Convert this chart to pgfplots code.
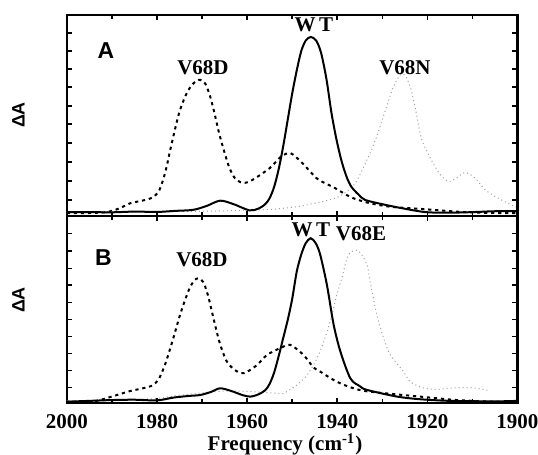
\documentclass[border=0pt]{standalone}
\usepackage{pgfplots}
\pgfplotsset{compat=1.18}
\usepackage{fontspec}
\setmainfont{Liberation Serif}
\newfontfamily\arial{Liberation Sans}

\pgfplotsset{
  ftir/.style={
    scale only axis, width=225.25pt,
    x dir=reverse, xmin=1900, xmax=2000,
    xtick={1900,1920,...,2000}, minor xtick={1910,1930,...,1990},
    tick align=inside, major tick length=2.5pt, minor tick length=2pt,
    every tick/.style={black, line width=0.8pt},
    axis line style={line width=1.2pt},
    yticklabels={}, clip=false,
    /pgf/number format/1000 sep={},
    /pgf/number format/assume math mode=true,
    tick label style={font=\bfseries\fontsize{10.5}{12}\selectfont},
  },
  wt/.style={black, line width=1pt, smooth, tension=0.5},
  vd/.style={black, line width=1pt, dash pattern=on 1.6pt off 1.9pt, smooth, tension=0.5},
  vn/.style={gray!75, line width=0.5pt, dash pattern=on 0.5pt off 1.5pt, smooth, tension=0.5},
}

\begin{document}
\begin{tikzpicture}
\path[use as bounding box] (0,0) rectangle (269pt,227.5pt);

% panel A
\begin{axis}[ftir, height=100.5pt, at={(33.5pt,119.5pt)}, anchor=south west,
  ymin=-0.017, ymax=1.125, xticklabels={},
  ytick={0.074,0.182,0.29,0.398,0.506,0.608,0.716,0.818,0.92,1.023}]
% V68D
\addplot[vd] coordinates {
(2000,0)(1995,0)(1991,0.006)(1988,0.03)(1986,0.055)(1983,0.072)(1981,0.088)
(1979.5,0.13)(1978.2,0.23)(1976.8,0.39)(1975.2,0.56)(1973.8,0.66)(1972.5,0.72)
(1971.3,0.75)(1970.4,0.756)(1969.3,0.735)(1968.2,0.66)(1967.2,0.56)(1966.2,0.45)
(1965.1,0.35)(1964,0.26)(1962.8,0.2)(1961.5,0.175)(1960.3,0.172)(1958.7,0.19)
(1955,0.255)(1952.5,0.32)(1950.4,0.34)(1948,0.29)(1946,0.235)(1944.2,0.19)
(1940.4,0.14)(1937,0.09)(1933,0.057)(1928,0.035)(1921.3,0.023)(1912.4,0.006)
(1905,0)(1900,0)};
% V68N
\addplot[vn] coordinates {
(2000,0.008)(1990,0.008)(1980,0.008)(1970,0.01)(1960,0.015)(1955,0.02)
(1951.6,0.028)(1948,0.04)(1944.2,0.06)(1940.4,0.085)(1938,0.12)(1936,0.17)
(1933.8,0.28)(1931.6,0.41)(1929.3,0.585)(1927.5,0.72)(1925.8,0.79)(1924.7,0.77)
(1923.6,0.70)(1922.4,0.56)(1921.3,0.42)(1919.1,0.30)(1917.2,0.22)(1915.3,0.18)
(1913.5,0.2)(1911.6,0.23)(1909.5,0.2)(1907.1,0.13)(1904,0.08)(1900.4,0.034)};
% WT
\addplot[wt] coordinates {
(2000,0.005)(1995,0.005)(1990,0.004)(1985,0.008)(1980,0.006)(1976,0.012)
(1972,0.018)(1969,0.04)(1966,0.07)(1963,0.05)(1959.5,0.015)(1957.5,0.025)
(1956,0.05)(1955,0.085)(1954,0.15)(1953,0.25)(1952,0.38)(1951,0.53)
(1950,0.68)(1949,0.81)(1948,0.92)(1947,0.98)(1945.9,1.0)(1944.7,0.98)
(1943.6,0.91)(1942.4,0.76)(1941.3,0.57)(1940.2,0.42)(1939.1,0.30)(1938,0.21)
(1936.9,0.15)(1935.3,0.105)(1933.8,0.074)(1930,0.05)(1925.8,0.028)(1920.4,0.005)
(1915,0.002)(1910,0.005)(1905,0.01)(1900,0.01)};
\end{axis}

% panel B
\begin{axis}[ftir, height=93.5pt, at={(33.5pt,26pt)}, anchor=south west,
  ymin=-0.008, ymax=1.136, xticklabel style={yshift=-2pt},
  ytick={0.086,0.19,0.296,0.398,0.504,0.608,0.714,0.816,0.922,1.03}]
% V68D
\addplot[vd] coordinates {
(2000,0)(1995,0)(1992.7,0.01)(1989,0.04)(1986,0.065)(1983,0.083)(1981,0.1)
(1979.6,0.14)(1978.2,0.23)(1976.6,0.37)(1974.8,0.54)(1973,0.68)(1971.8,0.74)
(1970.8,0.755)(1969.7,0.73)(1968.6,0.64)(1967.4,0.5)(1966.1,0.36)(1964.6,0.25)
(1962.8,0.195)(1960.8,0.174)(1958,0.22)(1955.6,0.286)(1952.5,0.33)(1950.4,0.347)
(1947.5,0.286)(1945.3,0.21)(1943.8,0.184)(1940.1,0.122)(1936.4,0.082)
(1932.7,0.061)(1921.6,0.031)(1913.4,0.01)(1905,0)(1900,0)};
% V68E
\addplot[vn] coordinates {
(2000,0.005)(1990,0.008)(1980,0.02)(1975,0.04)(1965,0.065)(1958,0.06)
(1953,0.05)(1951.9,0.051)(1949,0.102)(1946.7,0.163)(1944.5,0.265)(1943,0.367)
(1941.6,0.49)(1940.1,0.653)(1939,0.755)(1937.5,0.90)(1935.3,0.922)(1933.4,0.837)
(1932.7,0.734)(1931.2,0.53)(1929.7,0.388)(1928.2,0.286)(1925.3,0.184)
(1923.8,0.122)(1921,0.085)(1918,0.075)(1914,0.085)(1910,0.085)(1906.7,0.07)};
% WT
\addplot[wt] coordinates {
(2000,0)(1995,0.005)(1990,0.01)(1985,0.012)(1980,0.008)(1976.4,0.025)
(1973,0.035)(1970.4,0.041)(1968,0.06)(1966,0.082)(1963.5,0.065)(1961,0.04)
(1959.3,0.031)(1957.5,0.045)(1956,0.07)(1955,0.11)(1954,0.18)(1953,0.28)
(1952,0.39)(1951,0.5)(1950,0.63)(1949,0.796)(1948,0.9)(1947,0.97)(1945.9,1.0)
(1944.8,0.97)(1943.8,0.90)(1942.3,0.714)(1940.8,0.47)(1939.3,0.306)(1937.1,0.143)
(1935,0.095)(1933.4,0.072)(1926.7,0.031)(1921.6,0.015)(1915,0.005)(1905,0.002)
(1900,0.005)};
\end{axis}

% labels
\begin{scope}[font=\bfseries\fontsize{10.5}{12}\selectfont]
\node at (101.5pt,193.5pt) {V68D};
\node at (157pt,215pt) {W\,T};
\node at (202.5pt,193.5pt) {V68N};
\node at (101pt,97.5pt) {V68D};
\node at (155.5pt,112.5pt) {W\,T};
\node at (180.5pt,110.5pt) {V68E};
\node[anchor=base] at (142.5pt,2pt) {Frequency (cm\textsuperscript{-1})};
\end{scope}
\begin{scope}[font=\arial\bfseries\fontsize{11.5}{13}\selectfont]
\node at (53pt,202pt) {A};
\node at (51.75pt,98.75pt) {B};
\end{scope}
\begin{scope}[font=\arial\bfseries\fontsize{9}{11}\selectfont]
\node[rotate=90] at (9.25pt,170pt) {ΔA};
\node[rotate=90] at (9.25pt,77.5pt) {ΔA};
\end{scope}
\end{tikzpicture}
\end{document}
